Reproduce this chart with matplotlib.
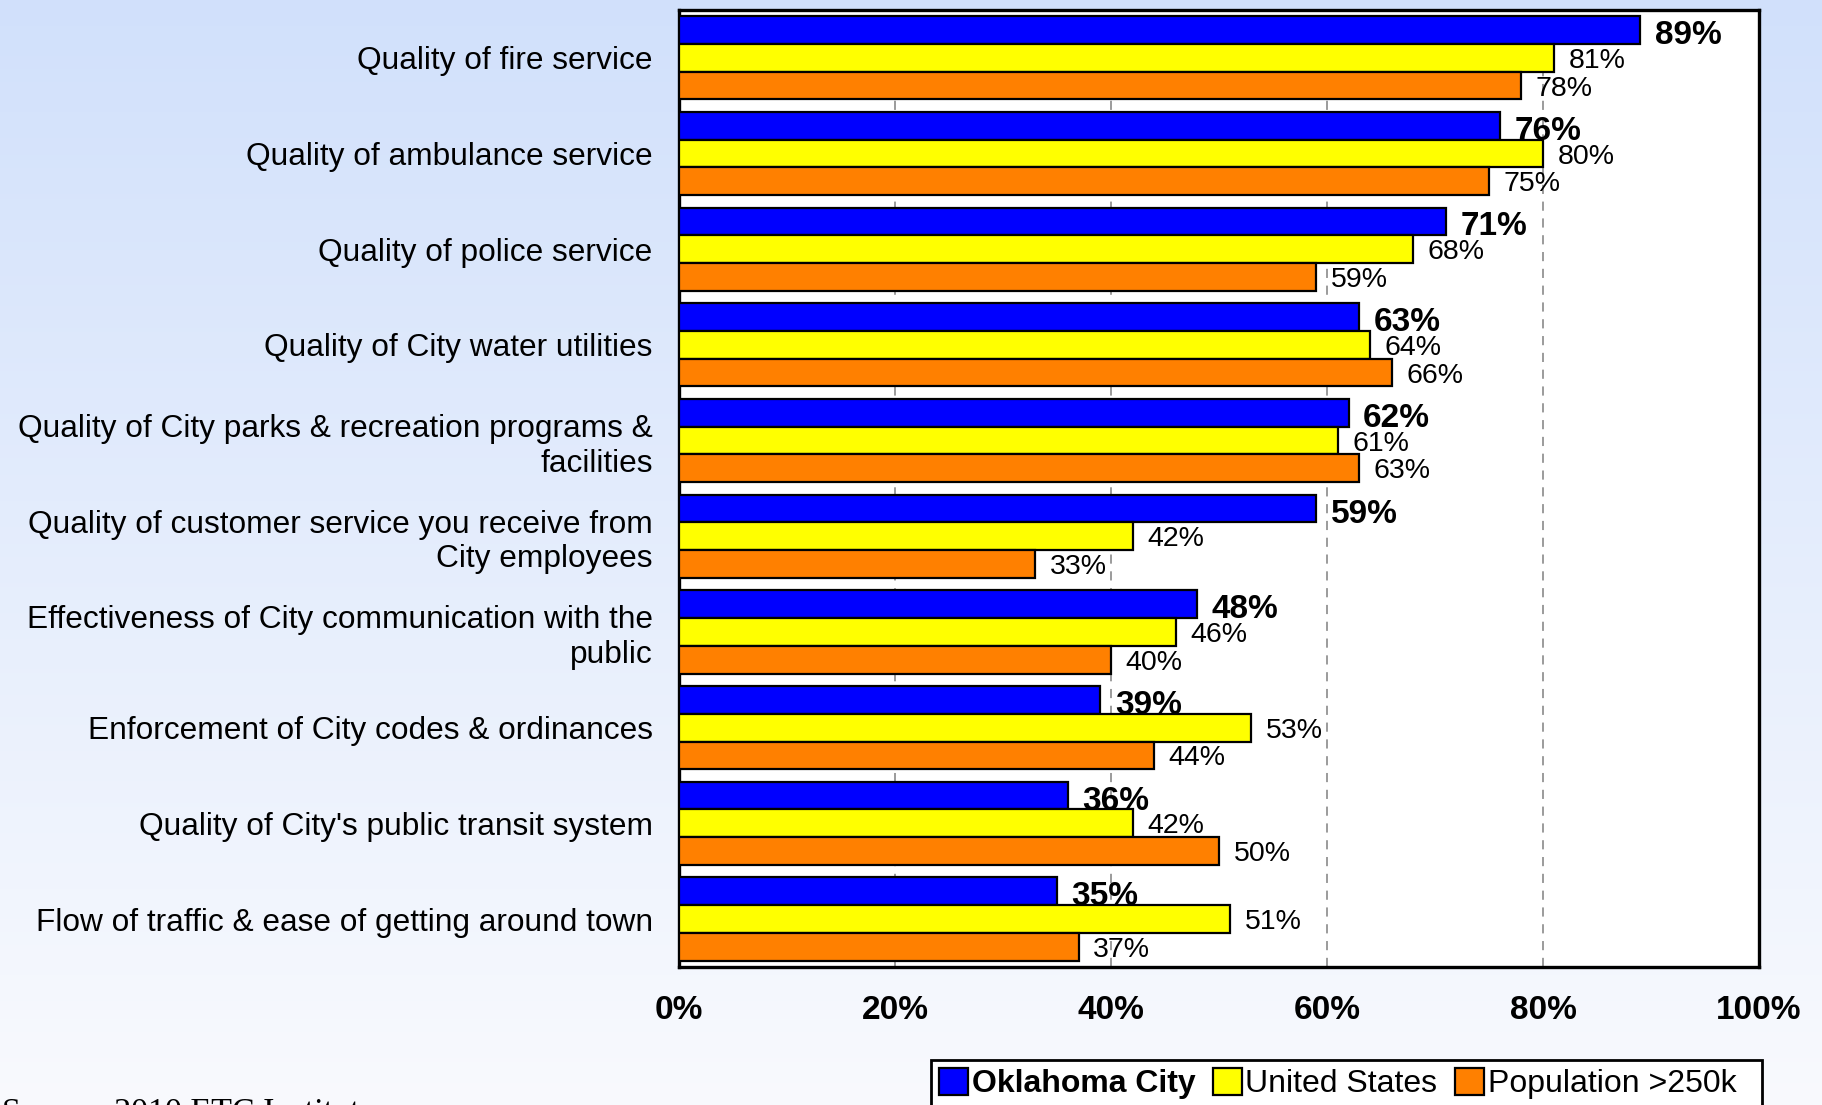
import matplotlib
matplotlib.use("Agg")
import matplotlib.pyplot as plt
import numpy as np

plt.rcParams['font.family'] = ['Liberation Sans', 'DejaVu Sans']

# data
categories = [
    "Quality of fire service",
    "Quality of ambulance service",
    "Quality of police service",
    "Quality of City water utilities",
    "Quality of City parks & recreation programs &\nfacilities",
    "Quality of customer service you receive from\nCity employees",
    "Effectiveness of City communication with the\npublic",
    "Enforcement of City codes & ordinances",
    "Quality of City's public transit system",
    "Flow of traffic & ease of getting around town",
]
okc = [89, 76, 71, 63, 62, 59, 48, 39, 36, 35]
us = [81, 80, 68, 64, 61, 42, 46, 53, 42, 51]
big_cities = [78, 75, 59, 66, 63, 33, 40, 44, 50, 37]
series_names = ["Oklahoma City", "United States", "Population >250k  "]
ticks = [0, 20, 40, 60, 80, 100]

colors = ["#0000FF", "#FFFF00", "#FF8000"]

fig = plt.figure(figsize=(18.22, 11.05), dpi=100)

# background gradient
bg = fig.add_axes([0, 0, 1, 1], zorder=-10)
grad = np.linspace(0, 1, 256).reshape(-1, 1)
top = np.array([0.82, 0.88, 0.985])
bot = np.array([0.975, 0.98, 0.995])
img = top + (bot - top) * grad[:, :, None]
bg.imshow(img, aspect='auto', extent=[0, 1, 0, 1])
bg.axis('off')

ax = fig.add_axes([0.3727, 0.125, 0.5927, 0.866])
ax.set_facecolor('white')

y = np.arange(len(categories))
h = 0.29
for k, (vals, c) in enumerate(zip([okc, us, big_cities], colors)):
    pos = y + (k - 1) * h
    ax.barh(pos, vals, height=h, color=c, edgecolor='black', linewidth=1.6,
            label=series_names[k], zorder=3)
    for p, v in zip(pos, vals):
        if k == 0:
            ax.annotate(f"{v}%", (v, p), xytext=(10.5, -4), textcoords='offset points',
                        va='center', ha='left', fontsize=24, fontweight='bold', zorder=5)
        else:
            ax.annotate(f"{v}%", (v, p), xytext=(10.5, -2.2), textcoords='offset points',
                        va='center', ha='left', fontsize=20.5, zorder=5)

ax.set_xlim(0, 100)
ax.set_ylim(len(categories) - 0.5, -0.5)
ax.set_yticks(y)
ax.set_yticklabels(categories, fontsize=22.8, linespacing=1.2)
ax.set_xticks(ticks)
ax.set_xticklabels([f"{t}%" for t in ticks], fontsize=24, fontweight='bold')
ax.tick_params(axis='both', length=0)
ax.tick_params(axis='y', pad=19)
ax.tick_params(axis='x', pad=20)
for s in ax.spines.values():
    s.set_linewidth(2.4)
    s.set_color('black')
ax.xaxis.grid(True, color='#808080', linestyle=(0, (6, 5)), linewidth=1.1, zorder=0)
ax.set_axisbelow(True)

leg = fig.legend(loc='upper right', bbox_to_anchor=(1762 / 1822, 1 - 1060 / 1105),
                 ncol=3, fontsize=23, frameon=True, fancybox=False, framealpha=1,
                 edgecolor='black', handlelength=0.9, handleheight=0.9,
                 handletextpad=0.12, columnspacing=0.55, borderpad=0.25,
                 borderaxespad=0)
leg.get_frame().set_linewidth(2.0)
leg.get_texts()[0].set_fontweight('bold')

fig.text(0.001, 1 - 1121 / 1105, "Source: 2010 ETC Institute", fontsize=24.5,
         family='Liberation Serif', va='baseline', ha='left')

fig.savefig("out.png", dpi=100)
